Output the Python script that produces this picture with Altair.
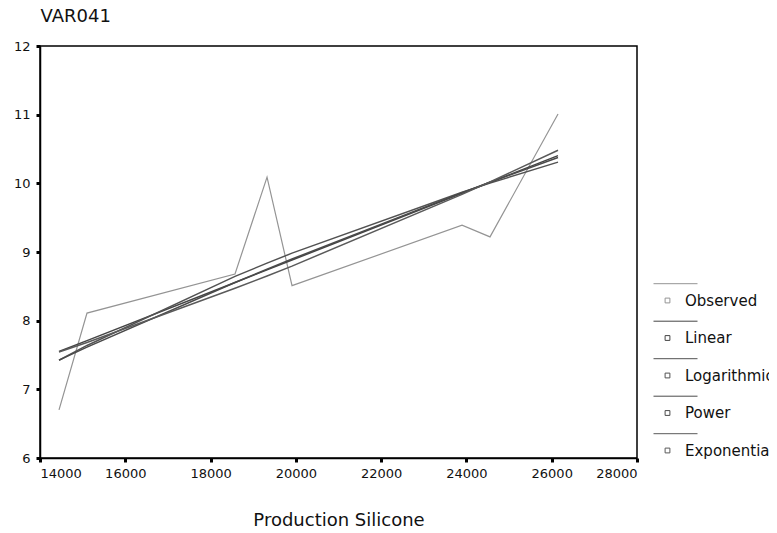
import altair as alt
import pandas as pd

# Production Silicone (x) values of the observations
x_vals = [14446, 15102, 18573, 19324, 19910, 23897, 24553, 26148]
# VAR041 observed and fitted curves (values at each x)
observed = [6.70, 8.11, 8.68, 10.09, 8.51, 9.39, 9.22, 11.01]
linear = [7.550, 7.710, 8.556, 8.740, 8.883, 9.855, 10.015, 10.404]
logarithmic = [7.423, 7.639, 8.645, 8.838, 8.983, 9.871, 10.003, 10.309]
power = [7.426, 7.614, 8.556, 8.750, 8.898, 9.864, 10.016, 10.377]
exponential = [7.543, 7.683, 8.471, 8.651, 8.795, 9.839, 10.022, 10.481]

series_names = ["Observed", "Linear", "Logarithmic", "Power", "Exponential"]
series_values = [observed, linear, logarithmic, power, exponential]
series_colors = ["#949494", "#454545", "#525252", "#4a4a4a", "#5a5a5a"]
series_widths = [1.2, 1.5, 1.5, 1.5, 1.5]

x_ticks = [14000, 16000, 18000, 20000, 22000, 24000, 26000, 28000]
y_ticks = [6, 7, 8, 9, 10, 11, 12]

rows = []
for name, vals, w in zip(series_names, series_values, series_widths):
    for i, (xv, yv) in enumerate(zip(x_vals, vals)):
        rows.append({"x": xv, "y": yv, "series": name, "order": i, "w": w})
df = pd.DataFrame(rows)

FONT = "DejaVu Sans"

legend_symbol = ("M-3.5,-4.2L7.5,-4.2 "
                 "M-0.6,-0.6L0.6,-0.6L0.6,0.6L-0.6,0.6Z")

chart = alt.Chart(df).mark_line().encode(
    x=alt.X("x:Q", title="Production Silicone",
            scale=alt.Scale(domain=[14000, 28000], nice=False, zero=False),
            axis=alt.Axis(values=x_ticks, format="d", grid=False,
                          titleY=62, titleBaseline="middle",
                          titleFontSize=18, titleFontWeight="normal",
                          labelFontSize=13, labelPadding=5)),
    y=alt.Y("y:Q", title="VAR041",
            scale=alt.Scale(domain=[6, 12], nice=False, zero=False),
            axis=alt.Axis(values=y_ticks, grid=False,
                          titleAngle=0, titleAlign="left", titleBaseline="middle",
                          titleX=0, titleY=-30,
                          titleFontSize=18, titleFontWeight="normal",
                          labelFontSize=13, labelPadding=6)),
    color=alt.Color("series:N",
                    scale=alt.Scale(domain=series_names, range=series_colors),
                    sort=series_names,
                    legend=alt.Legend(title=None, orient="none",
                                      legendX=620, legendY=247,
                                      symbolType=legend_symbol, symbolSize=64,
                                      symbolStrokeWidth=1, symbolFillColor="white",
                                      labelFontSize=15, labelOffset=10,
                                      rowPadding=9.5, padding=0,
                                      labelLimit=200)),
    strokeWidth=alt.StrokeWidth("w:Q", scale=None, legend=None),
    order="order:Q",
).properties(
    width=597, height=412,
    autosize=alt.AutoSizeParams(type="none"),
    padding={"left": 32, "top": 38, "right": 132, "bottom": 75},
).configure(
    font=FONT,
).configure_view(
    stroke="black", strokeWidth=1.5,
).configure_axis(
    domainColor="black", domainWidth=1.5,
    tickColor="black", tickSize=4, tickWidth=3,
    labelColor="#111111", titleColor="#111111",
    labelFont=FONT, titleFont=FONT,
).configure_legend(
    labelFont=FONT, labelColor="#111111",
)

chart.save("out.html", embed_options={"renderer": "svg", "actions": False})
